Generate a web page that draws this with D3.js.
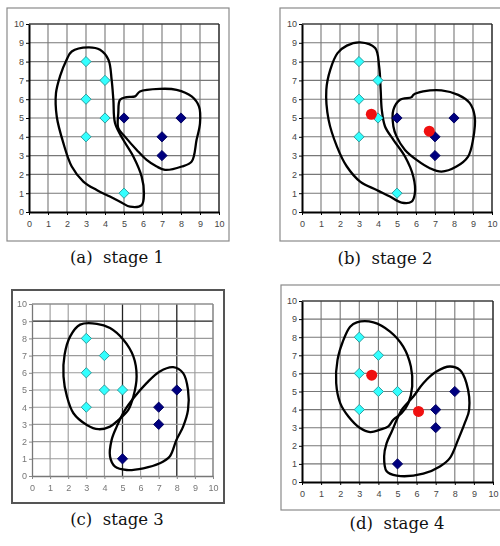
<!DOCTYPE html>
<html><head><meta charset="utf-8">
<script src="https://cdn.jsdelivr.net/npm/d3@7"></script>
<style>body{margin:0;background:#fff}svg{display:block}</style>
</head><body>
<svg id="c" width="500" height="546"></svg>
<script>
// ---- data ----
const ticks = [0,1,2,3,4,5,6,7,8,9,10];
const captions = ["(a)  stage 1","(b)  stage 2","(c)  stage 3","(d)  stage 4"];

const cyan12 = [[3,8],[4,7],[3,6],[4,5],[3,4],[5,1]];
const navy12 = [[5,5],[7,4],[8,5],[7,3]];
const cyan34 = [[3,8],[4,7],[3,6],[4,5],[5,5],[3,4]];
const navy34 = [[8,5],[7,4],[7,3],[5,1]];
const centroids2 = [[3.65,5.2],[6.7,4.3]];
const centroids4 = [[3.65,5.9],[6.1,3.9]];

const blob1A = [[3.12,8.76],[3.74,8.63],[4.18,8.1],[4.35,7.03],[4.44,5.97],[4.53,4.72],[4.96,3.84],[5.49,2.95],[5.93,1.88],[6.05,0.99],[5.93,0.37],[5.32,0.28],[4.79,0.55],[4.26,0.82],[3.56,1.17],[2.86,1.62],[2.25,2.42],[1.81,3.66],[1.46,5.08],[1.42,6.32],[1.63,7.21],[1.98,8.1],[2.25,8.54]];
const blob1B = [[4.79,5.97],[5.14,6.11],[5.58,6.15],[5.84,6.41],[6.89,6.55],[7.77,6.5],[8.56,6.15],[8.95,5.61],[9.0,4.72],[8.82,3.84],[8.56,2.68],[8.04,2.42],[7.16,2.24],[6.72,2.42],[6.19,2.77],[5.67,3.3],[5.05,4.01],[4.7,4.46],[4.7,5.26]];
const blob2A = [[3.06,9.02],[3.85,8.72],[4.06,7.74],[4.14,6.5],[4.2,5.43],[4.37,4.55],[4.81,3.84],[5.42,2.95],[5.86,1.88],[5.94,0.99],[5.77,0.55],[5.24,0.5],[4.63,0.82],[3.93,1.17],[3.06,1.62],[2.36,2.42],[1.84,3.48],[1.4,4.9],[1.28,6.5],[1.49,7.57],[1.87,8.45],[2.36,8.85]];
const blob2B = [[4.81,5.43],[5.16,5.97],[5.77,6.11],[5.86,6.23],[6.38,6.41],[7.34,6.47],[8.22,6.23],[8.83,5.79],[9.09,5.08],[9.0,3.84],[8.74,2.95],[8.13,2.42],[7.34,2.15],[6.73,2.33],[6.03,2.77],[5.42,3.3],[4.98,4.01],[4.81,4.55]];
const blob3A = [[2.66,8.8],[3.58,8.85],[4.31,8.6],[5.05,7.92],[5.6,6.95],[5.78,5.79],[5.6,4.62],[5.32,3.84],[4.78,3.26],[4.31,2.87],[3.67,2.72],[3.03,2.97],[2.29,3.65],[1.93,4.62],[1.74,5.79],[1.8,7.05],[2.11,8.12]];
const blob3B = [[5.14,3.84],[5.6,4.52],[6.33,5.4],[7.06,6.08],[7.8,6.33],[8.35,5.98],[8.62,5.01],[8.62,3.84],[8.35,2.87],[7.98,2.1],[7.61,1.13],[7.06,0.74],[6.15,0.45],[5.23,0.35],[4.59,0.54],[4.31,1.13],[4.4,2.1],[4.68,2.87]];
const blob4A = [[2.87,8.82],[3.74,8.82],[4.61,8.31],[5.3,7.48],[5.7,6.38],[5.77,5.28],[5.57,4.36],[5.22,3.81],[4.78,3.44],[4.52,3.07],[4.09,2.89],[3.57,2.76],[3.04,2.98],[2.43,3.62],[2.0,4.36],[1.79,5.46],[1.86,6.75],[2.17,7.85],[2.52,8.58]];
const blob4B = [[5.22,3.99],[5.83,4.72],[6.35,5.46],[7.04,6.1],[7.74,6.38],[8.26,6.19],[8.61,5.46],[8.75,3.99],[8.52,3.25],[8.17,2.33],[7.74,1.32],[7.22,0.86],[6.35,0.46],[4.96,0.35],[4.43,0.59],[4.3,1.42],[4.43,2.15],[4.7,2.79],[4.96,3.44]];

// ---- layout ----
const panels = [
  {frame:[7,8,222,233], plot:[29,24,219,212], cap:[117,263], cyan:cyan12, navy:navy12, cent:[], blobs:[blob1A,blob1B], style:"a"},
  {frame:[280,8,225,233], plot:[302,24,492,212], cap:[385,264], cyan:cyan12, navy:navy12, cent:centroids2, blobs:[blob2A,blob2B], style:"a"},
  {frame:[12,290,212,213], plot:[32,304,213,476], cap:[117,525], cyan:cyan34, navy:navy34, cent:[], blobs:[blob3A,blob3B], style:"c"},
  {frame:[281,285,225,225], plot:[302,301,493,482], cap:[397,529], cyan:cyan34, navy:navy34, cent:centroids4, blobs:[blob4A,blob4B], style:"a"}
];

const svg = d3.select("#c");
const defs = svg.append("defs");
defs.append("filter").attr("id","blur").append("feGaussianBlur").attr("stdDeviation",0.45);

const diamond = d3.symbol().type(d3.symbolSquare).size(52);

panels.forEach((p,i)=>{
  const [fx,fy,fw,fh] = p.frame;
  const [x0,y0,x1,y1] = p.plot;
  const isC = p.style==="c";
  const x = d3.scaleLinear().domain([0,10]).range([x0,x1]);
  const y = d3.scaleLinear().domain([0,10]).range([y1,y0]);
  const g = svg.append("g");
  if(isC) g.attr("filter","url(#blur)");

  g.append("rect").attr("x",fx).attr("y",fy).attr("width",fw).attr("height",fh)
    .attr("fill","#fff").attr("stroke",isC?"#555":"#8a8a8a").attr("stroke-width",isC?2:1.2);

  // grid
  const darkC = isC ? {x:[5,8], y:[9]} : {x:[],y:[]};
  g.selectAll(".vx").data(ticks.slice(1)).join("line")
    .attr("x1",d=>x(d)).attr("x2",d=>x(d)).attr("y1",y(0)).attr("y2",y(10))
    .attr("stroke",d=>darkC.x.includes(d)?"#222":(isC?"#9a9a9a":"#777")).attr("stroke-width",d=>darkC.x.includes(d)?1.3:1.1);
  g.selectAll(".hy").data(ticks.slice(1)).join("line")
    .attr("y1",d=>y(d)).attr("y2",d=>y(d)).attr("x1",x(0)).attr("x2",x(10))
    .attr("stroke",d=>darkC.y.includes(d)?"#222":(isC?"#9a9a9a":"#777")).attr("stroke-width",d=>darkC.y.includes(d)?1.3:1.1);
  // top/right border of plot
  g.append("line").attr("x1",x(0)).attr("x2",x(10)).attr("y1",y(10)).attr("y2",y(10)).attr("stroke",isC?"#888":"#222").attr("stroke-width",1.2);
  g.append("line").attr("x1",x(10)).attr("x2",x(10)).attr("y1",y(0)).attr("y2",y(10)).attr("stroke",isC?"#888":"#222").attr("stroke-width",1.2);

  // axes
  const ax = g.append("g").attr("transform",`translate(0,${y(0)})`)
    .call(d3.axisBottom(x).tickValues(ticks).tickSize(3).tickSizeOuter(0).tickFormat(d3.format("d")));
  const ay = g.append("g").attr("transform",`translate(${x(0)},0)`)
    .call(d3.axisLeft(y).tickValues(ticks).tickSize(3).tickSizeOuter(0).tickFormat(d3.format("d")));
  [ax,ay].forEach(a=>{
    a.select(".domain").attr("stroke",isC?"#777":"#000").attr("stroke-width",isC?1.3:2);
    a.selectAll(".tick line").attr("stroke",isC?"#888":"#000");
    a.selectAll("text").attr("font-family","Liberation Sans, Arial, sans-serif").attr("font-size",9).attr("fill",isC?"#777":"#444");
  });
  ax.selectAll("text").attr("dy","1.05em");
  ay.selectAll("text").attr("dx","0.1em");

  // blobs
  const line = d3.line().x(d=>x(d[0])).y(d=>y(d[1])).curve(d3.curveCatmullRomClosed.alpha(0.5));
  g.selectAll(".blob").data(p.blobs).join("path").attr("d",line)
    .attr("fill","none").attr("stroke","#000").attr("stroke-width",2.3).attr("stroke-linejoin","round");

  // markers
  g.selectAll(".cy").data(p.cyan).join("path").attr("d",diamond)
    .attr("transform",d=>`translate(${x(d[0])},${y(d[1])}) rotate(45)`)
    .attr("fill","#33ffff").attr("stroke","#2a9a9a").attr("stroke-width",0.9);
  g.selectAll(".nv").data(p.navy).join("path").attr("d",diamond)
    .attr("transform",d=>`translate(${x(d[0])},${y(d[1])}) rotate(45)`)
    .attr("fill","#000080").attr("stroke","#000060").attr("stroke-width",0.9);
  g.selectAll(".ce").data(p.cent).join("circle")
    .attr("cx",d=>x(d[0])).attr("cy",d=>y(d[1])).attr("r",5.5).attr("fill","#f01010");

  svg.append("text").attr("x",p.cap[0]).attr("y",p.cap[1]).attr("text-anchor","middle")
    .attr("font-family","DejaVu Serif, serif").attr("font-size",16.5).attr("fill","#111")
    .attr("xml:space","preserve").style("white-space","pre").text(captions[i]);
});
</script>
</body></html>
